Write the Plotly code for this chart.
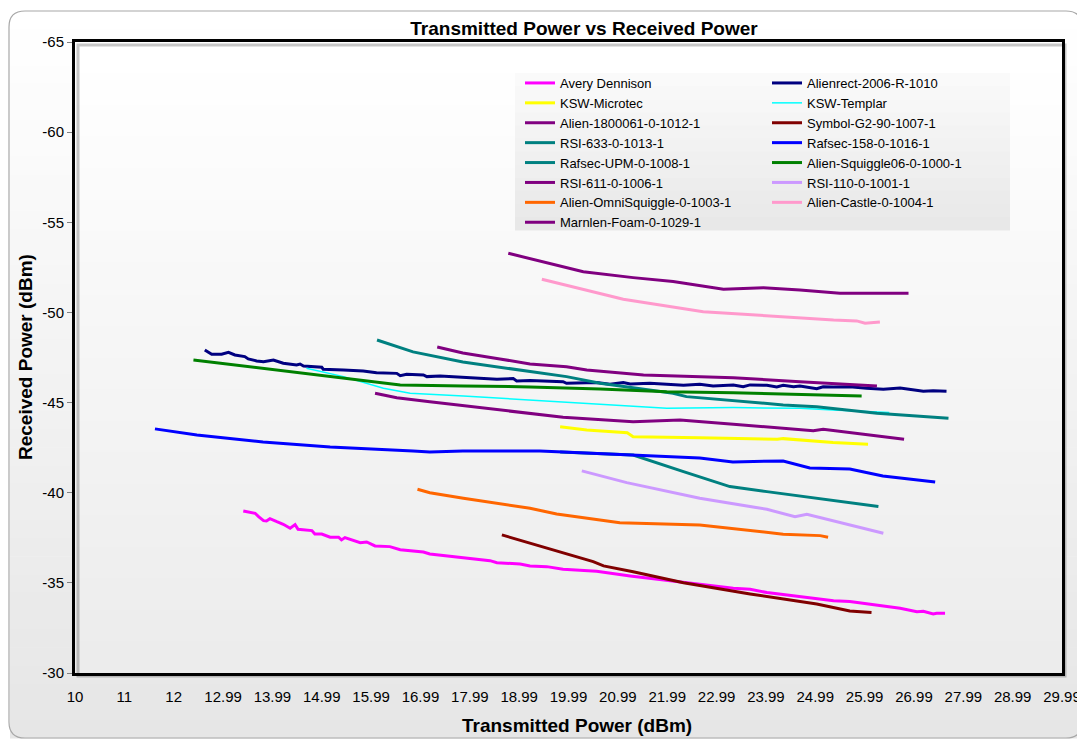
import plotly.graph_objects as go

# ---------------- data ----------------
avery_x = [13.41, 13.55, 13.65, 13.72, 13.82, 13.88, 13.95, 14.09, 14.22, 14.36, 14.46, 14.52,
           14.80, 14.86, 15.00, 15.17, 15.34, 15.40, 15.47, 15.78, 15.91, 16.08, 16.38, 16.59,
           17.06, 17.19, 17.80, 18.07, 18.41, 18.55, 19.02, 19.22, 19.56, 19.89, 20.57, 21.25,
           21.99, 22.66, 23.34, 23.68, 24.02, 25.03, 25.37, 25.70, 26.04, 26.38, 26.72, 27.06,
           27.19, 27.39, 27.46, 27.63]
avery_y = [-38.99, -38.89, -38.86, -38.67, -38.45, -38.43, -38.56, -38.39, -38.25, -38.03, -38.23, -37.97,
           -37.90, -37.71, -37.71, -37.53, -37.53, -37.38, -37.51, -37.23, -37.27, -37.05, -37.01, -36.84,
           -36.71, -36.60, -36.42, -36.36, -36.23, -36.12, -36.05, -35.94, -35.90, -35.75, -35.64, -35.38,
           -35.16, -34.92, -34.70, -34.64, -34.46, -34.15, -34.01, -33.96, -33.83, -33.68, -33.59, -33.40,
           -33.42, -33.27, -33.31, -33.31]

alienrect_x = [12.63, 12.77, 12.97, 13.11, 13.24, 13.44, 13.51, 13.68, 13.82, 14.02, 14.22, 14.36,
               14.49, 14.56, 14.63, 15.00, 15.03, 15.44, 15.84, 16.11, 16.52, 16.59, 16.72, 17.06,
               17.13, 17.40, 17.87, 18.55, 18.88, 18.95, 19.22, 19.89, 19.96, 20.57, 20.84, 21.11,
               21.25, 21.65, 21.99, 22.33, 22.66, 22.93, 23.34, 23.54, 23.68, 24.02, 24.22, 24.35,
               24.56, 24.69, 25.03, 25.16, 25.37, 25.70, 26.04, 26.38, 26.72, 27.06, 27.19, 27.39, 27.66]
alienrect_y = [-47.92, -47.68, -47.68, -47.79, -47.64, -47.55, -47.42, -47.31, -47.27, -47.36, -47.18, -47.14,
               -47.09, -47.14, -47.03, -46.96, -46.85, -46.81, -46.75, -46.66, -46.62, -46.49, -46.57, -46.53,
               -46.44, -46.48, -46.40, -46.29, -46.33, -46.20, -46.22, -46.16, -46.07, -46.11, -46.02, -46.11,
               -46.03, -46.07, -46.02, -45.96, -46.02, -45.92, -45.98, -45.88, -45.98, -45.96, -45.87, -45.96,
               -45.88, -45.92, -45.77, -45.88, -45.87, -45.88, -45.79, -45.74, -45.81, -45.70, -45.63, -45.66, -45.63]

microtec_x = [19.83, 20.37, 21.19, 21.31, 22.66, 24.23, 24.35, 25.36, 26.07]
microtec_y = [-43.66, -43.48, -43.33, -43.11, -43.05, -42.96, -43.00, -42.78, -42.69]

templar_x = [14.69, 15.44, 16.25, 16.79, 17.87, 19.22, 20.57, 21.25, 21.99, 23.34, 24.69, 25.36, 26.50]
templar_y = [-46.90, -46.44, -45.79, -45.52, -45.37, -45.14, -44.91, -44.83, -44.68, -44.72, -44.68, -44.59, -44.45]

alien1800061_x = [17.34, 17.86, 18.61, 19.22, 19.96, 20.37, 21.52, 23.34, 24.69, 26.25]
alien1800061_y = [-48.08, -47.75, -47.42, -47.14, -46.99, -46.81, -46.53, -46.38, -46.16, -45.92]

symbol_x = [18.65, 20.50, 20.71, 21.31, 22.33, 23.68, 25.03, 25.70, 26.14]
symbol_y = [-37.66, -36.18, -35.94, -35.62, -35.01, -34.38, -33.83, -33.44, -33.35]

rsi633_x = [19.83, 21.31, 22.33, 23.27, 24.02, 25.03, 26.28]
rsi633_y = [-42.26, -42.09, -41.17, -40.34, -40.06, -39.69, -39.23]

rafsec158_x = [11.62, 12.47, 13.81, 15.17, 16.85, 17.19, 17.86, 19.42, 19.89, 21.31, 22.66, 23.33,
               24.35, 24.89, 25.70, 26.37, 27.43]
rafsec158_y = [-43.54, -43.20, -42.81, -42.54, -42.32, -42.26, -42.32, -42.32, -42.26, -42.09, -41.93, -41.71,
               -41.76, -41.37, -41.32, -40.93, -40.60]

rafsecupm_x = [16.12, 16.85, 17.86, 19.22, 19.96, 20.64, 22.12, 22.39, 24.35, 25.03, 26.25, 27.70]
rafsecupm_y = [-48.47, -47.81, -47.25, -46.70, -46.44, -46.07, -45.52, -45.33, -44.87, -44.77, -44.41, -44.13]

squiggle_x = [12.40, 13.82, 15.17, 16.59, 17.87, 19.22, 20.64, 21.99, 23.34, 24.69, 25.94]
squiggle_y = [-47.36, -46.90, -46.44, -45.98, -45.92, -45.87, -45.75, -45.60, -45.55, -45.46, -45.37]

rsi611_x = [16.08, 16.52, 17.19, 17.87, 18.55, 19.22, 19.89, 21.31, 22.26, 23.34, 24.96, 25.16, 26.80]
rsi611_y = [-45.52, -45.27, -45.05, -44.83, -44.59, -44.37, -44.18, -43.94, -44.03, -43.80, -43.44, -43.52, -42.96]

rsi110_x = [20.27, 21.18, 22.66, 24.02, 24.59, 24.83, 26.38]
rsi110_y = [-41.21, -40.56, -39.69, -39.08, -38.67, -38.80, -37.75]

omni_x = [16.94, 17.19, 17.87, 18.61, 19.22, 19.76, 21.04, 22.66, 24.35, 25.10, 25.26]
omni_y = [-40.19, -40.00, -39.69, -39.38, -39.14, -38.82, -38.34, -38.21, -37.70, -37.62, -37.53]

castle_x = [19.46, 21.11, 22.73, 24.02, 25.37, 25.84, 26.01, 26.31]
castle_y = [-51.84, -50.73, -50.04, -49.80, -49.58, -49.53, -49.40, -49.47]

marnlen_x = [18.78, 20.30, 21.31, 22.12, 23.14, 23.95, 24.69, 25.50, 26.18, 26.89]
marnlen_y = [-53.28, -52.26, -51.93, -51.71, -51.28, -51.37, -51.25, -51.06, -51.06, -51.06]

x_tick_vals = list(range(10, 31))
x_tick_text = ["10", "11", "12", "12.99", "13.99", "14.99", "15.99", "16.99", "17.99", "18.99",
               "19.99", "20.99", "21.99", "22.99", "23.99", "24.99", "25.99", "26.99", "27.99",
               "28.99", "29.99"]
y_tick_vals = [-65, -60, -55, -50, -45, -40, -35, -30]
y_tick_text = ["-65", "-60", "-55", "-50", "-45", "-40", "-35", "-30"]

# (name, x, y, colour, width, legend column)
series = [
    ("Avery Dennison", avery_x, avery_y, "#FF00FF", 3, "legend"),
    ("Alienrect-2006-R-1010", alienrect_x, alienrect_y, "#000080", 3, "legend2"),
    ("KSW-Microtec", microtec_x, microtec_y, "#FFFF00", 3, "legend"),
    ("KSW-Templar", templar_x, templar_y, "#00FFFF", 1.5, "legend2"),
    ("Alien-1800061-0-1012-1", alien1800061_x, alien1800061_y, "#800080", 3, "legend"),
    ("Symbol-G2-90-1007-1", symbol_x, symbol_y, "#800000", 3, "legend2"),
    ("RSI-633-0-1013-1", rsi633_x, rsi633_y, "#008080", 3, "legend"),
    ("Rafsec-158-0-1016-1", rafsec158_x, rafsec158_y, "#0000FF", 3, "legend2"),
    ("Rafsec-UPM-0-1008-1", rafsecupm_x, rafsecupm_y, "#008080", 3, "legend"),
    ("Alien-Squiggle06-0-1000-1", squiggle_x, squiggle_y, "#008000", 3, "legend2"),
    ("RSI-611-0-1006-1", rsi611_x, rsi611_y, "#800080", 3, "legend"),
    ("RSI-110-0-1001-1", rsi110_x, rsi110_y, "#CC99FF", 3, "legend2"),
    ("Alien-OmniSquiggle-0-1003-1", omni_x, omni_y, "#FF6600", 3, "legend"),
    ("Alien-Castle-0-1004-1", castle_x, castle_y, "#FF99CC", 3, "legend2"),
    ("Marnlen-Foam-0-1029-1", marnlen_x, marnlen_y, "#800080", 3, "legend"),
]

# ---------------- layout geometry (screen pixels of the reference) ----------------
OFF = 8                       # page body margin of the html page
W, H = 1085 - OFF, 740 - OFF  # figure size
L, R, T, B = 75, 1062, 42, 673   # plot area in screen pixels
FONT = "Liberation Sans, Arial, sans-serif"
LEG_FONT = 13


def px(xs):
    """screen x -> plot-paper x"""
    return (xs - L) / (R - L)


def py(ys):
    """screen y -> plot-paper y"""
    return (B - ys) / (B - T)


def cx(xs):
    return (xs - OFF) / W


def cy(ys):
    return 1 - (ys - OFF) / H


fig = go.Figure()
for name, xs, ys, color, w, leg in series:
    fig.add_trace(go.Scatter(x=xs, y=ys, mode="lines", name=name, legend=leg,
                             line=dict(color=color, width=w)))

shapes = []
# outer gradient panel
ox0, ox1, oy0, oy1 = 9, 1082, 11, 738
n = 40
for i in range(n):
    a = oy0 + (oy1 - oy0) * i / n
    b = oy0 + (oy1 - oy0) * (i + 1) / n
    t = i / (n - 1)
    c = int(round(255 - t * (255 - 230)))
    shapes.append(dict(type="rect", xref="paper", yref="paper", layer="below",
                       x0=px(ox0 + 1), x1=px(ox1 - 1), y0=py(a), y1=py(b + 0.6),
                       line=dict(width=0), fillcolor=f"rgb({c},{c},{c})"))
# inner plot gradient
for i in range(n):
    a = T + (B - T) * i / n
    b = T + (B - T) * (i + 1) / n
    t = i / (n - 1)
    c = int(round(255 - t * (255 - 236)))
    shapes.append(dict(type="rect", xref="paper", yref="paper", layer="below",
                       x0=0, x1=1, y0=py(a), y1=py(b + 0.6),
                       line=dict(width=0), fillcolor=f"rgb({c},{c},{c})"))
# legend box (light gradient)
lb_x0, lb_x1, lb_y0, lb_y1 = 515, 1010, 73, 230
m = 12
for i in range(m):
    a = lb_y0 + (lb_y1 - lb_y0) * i / m
    b = lb_y0 + (lb_y1 - lb_y0) * (i + 1) / m
    t = i / (m - 1)
    c = int(round(250 - t * (250 - 232)))
    shapes.append(dict(type="rect", xref="paper", yref="paper", layer="below",
                       x0=px(lb_x0), x1=px(lb_x1), y0=py(a), y1=py(b + 0.6),
                       line=dict(width=0), fillcolor=f"rgb({c},{c},{c})"))
# rounded outer border
r = 16
path = (f"M {px(ox0 + r)},{py(oy0)} L {px(ox1 - r)},{py(oy0)} "
        f"Q {px(ox1)},{py(oy0)} {px(ox1)},{py(oy0 + r)} "
        f"L {px(ox1)},{py(oy1 - r)} Q {px(ox1)},{py(oy1)} {px(ox1 - r)},{py(oy1)} "
        f"L {px(ox0 + r)},{py(oy1)} Q {px(ox0)},{py(oy1)} {px(ox0)},{py(oy1 - r)} "
        f"L {px(ox0)},{py(oy0 + r)} Q {px(ox0)},{py(oy0)} {px(ox0 + r)},{py(oy0)} Z")
shapes.append(dict(type="path", xref="paper", yref="paper", layer="below", path=path,
                   line=dict(color="#A8A8A8", width=1.2)))
# soft shadow of the plot frame
shapes.append(dict(type="rect", xref="paper", yref="paper", layer="below",
                   x0=px(L + 3), x1=px(R + 3), y0=py(B + 3), y1=py(T + 3),
                   line=dict(color="rgba(0,0,0,0.22)", width=3)))

leg_common = dict(orientation="v", xref="paper", yref="paper", xanchor="left", yanchor="top",
                  itemwidth=30, bgcolor="rgba(0,0,0,0)", borderwidth=0, tracegroupgap=0,
                  font=dict(family=FONT, size=LEG_FONT, color="black"), traceorder="normal")

fig.update_layout(
    width=W, height=H, autosize=False,
    margin=dict(l=L - OFF, r=(1085 - R), t=T - OFF, b=(740 - B), pad=0, autoexpand=False),
    paper_bgcolor="white", plot_bgcolor="rgba(0,0,0,0)",
    font=dict(family=FONT, color="black"),
    title=dict(text="<b>Transmitted Power vs Received Power</b>", xref="container", yref="container",
               x=cx(584), y=cy(28), xanchor="center", yanchor="middle",
               font=dict(family=FONT, size=19, color="black")),
    showlegend=True,
    legend=dict(x=px(520), y=py(68), **leg_common),
    legend2=dict(x=px(767), y=py(68), **leg_common),
    shapes=shapes,
    annotations=[
        dict(text="<b>Transmitted Power (dBm)</b>", xref="paper", yref="paper",
             x=px(577), y=py(725), xanchor="center", yanchor="middle", showarrow=False,
             font=dict(family=FONT, size=19, color="black")),
        dict(text="<b>Received Power (dBm)</b>", xref="paper", yref="paper",
             x=px(25), y=py(357), xanchor="center", yanchor="middle", showarrow=False,
             textangle=-90, font=dict(family=FONT, size=19, color="black")),
    ],
)

fig.update_xaxes(range=[10, 30], tickmode="array", tickvals=x_tick_vals, ticktext=x_tick_text,
                 showgrid=False, zeroline=False, showline=True, linecolor="black", linewidth=3,
                 mirror=True, ticks="", ticklabelstandoff=8,
                 tickfont=dict(family=FONT, size=15, color="black"))
fig.update_yaxes(range=[-30, -65], tickmode="array", tickvals=y_tick_vals, ticktext=y_tick_text,
                 showgrid=False, zeroline=False, showline=True, linecolor="black", linewidth=3,
                 mirror=True, ticks="outside", ticklen=5, tickwidth=1, tickcolor="#808080",
                 tickfont=dict(family=FONT, size=15, color="black"))

fig.write_html("out.html")
